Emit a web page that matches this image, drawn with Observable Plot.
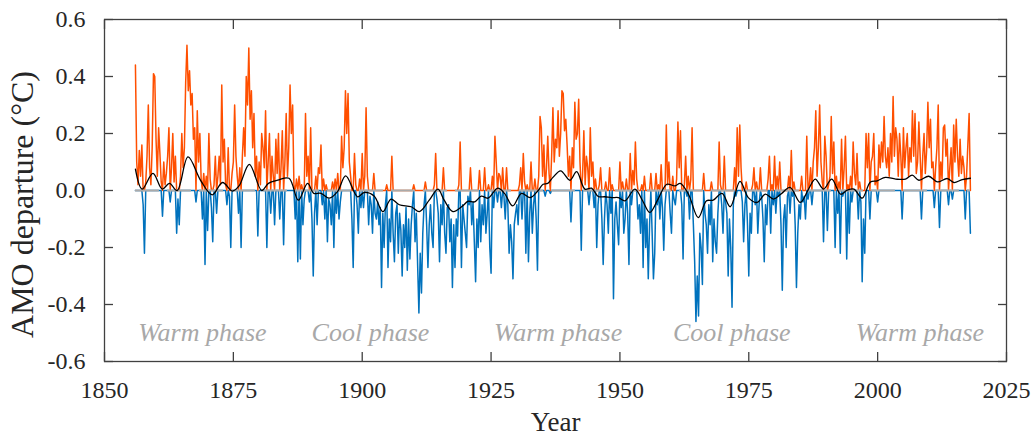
<!DOCTYPE html>
<html>
<head>
<meta charset="utf-8">
<script src="https://cdn.jsdelivr.net/npm/d3@7"></script>
<script src="https://cdn.jsdelivr.net/npm/@observablehq/plot@0.6"></script>
<style>
  html, body { margin: 0; padding: 0; background: #ffffff; }
  svg { display: block; }
  svg text { font-family: "Liberation Serif", "DejaVu Serif", serif !important; }
</style>
</head>
<body>
<div id="chart"></div>
<script>
// ---- data ----
const startYear = 1856;          // first sample
const samplesPerYear = 4;
// AMO departure (°C), four samples per year from 1856 to 2018
const amoValues = [
  0.44, 0.10, 0.02, 0.14,    // 1856
  0.05, 0.16, -0.05, -0.22,  // 1857
  0.03, 0.12, 0.30, 0.08,    // 1858
  0.02, 0.15, 0.41, 0.40,    // 1859
  0.18, 0.05, 0.22, 0.13,    // 1860
  0.03, -0.09, 0.10, 0.02,   // 1861
  0.06, 0.12, 0.22, -0.04,   // 1862
  0.08, 0.20, 0.03, 0.12,    // 1863
  -0.15, -0.03, -0.12, 0.05, // 1864
  0.20, 0.08, 0.15, 0.38,    // 1865
  0.51, 0.35, 0.42, 0.30,    // 1866
  0.34, 0.18, 0.22, -0.04,   // 1867
  0.28, 0.10, 0.20, 0.04,    // 1868
  -0.10, 0.06, -0.26, 0.05,  // 1869
  -0.14, 0.20, 0.04, -0.06,  // 1870
  -0.18, 0.02, 0.12, -0.08,  // 1871
  0.05, 0.12, 0.02, 0.37,    // 1872
  0.10, 0.18, 0.02, -0.05,   // 1873
  0.15, -0.02, -0.20, 0.06,  // 1874
  0.10, 0.30, 0.12, 0.05,    // 1875
  -0.08, 0.08, -0.20, 0.12,  // 1876
  0.22, 0.12, 0.40, 0.30,    // 1877
  0.50, 0.25, 0.35, 0.15,    // 1878
  0.27, 0.05, 0.12, -0.16,   // 1879
  0.10, 0.02, 0.20, 0.15,    // 1880
  0.08, 0.28, -0.20, 0.10,   // 1881
  0.20, -0.08, 0.12, 0.05,   // 1882
  -0.12, 0.18, 0.06, 0.20,   // 1883
  -0.10, 0.08, 0.21, -0.19,  // 1884
  0.10, 0.27, 0.05, 0.15,    // 1885
  0.37, 0.20, 0.30, 0.02,    // 1886
  -0.10, 0.04, -0.25, 0.05,  // 1887
  -0.24, 0.02, -0.12, -0.03, // 1888
  0.27, 0.05, 0.12, -0.04,   // 1889
  0.22, -0.10, -0.30, -0.08, // 1890
  0.05, -0.12, 0.08, 0.06,   // 1891
  0.16, -0.05, 0.04, -0.10,  // 1892
  0.02, -0.18, -0.03, -0.05, // 1893
  -0.12, 0.03, -0.20, 0.04,  // 1894
  -0.08, 0.06, -0.10, -0.04, // 1895
  0.19, 0.08, 0.15, 0.35,    // 1896
  0.20, 0.34, 0.10, 0.05,    // 1897
  -0.10, -0.27, 0.13, 0.02,  // 1898
  -0.05, -0.15, 0.04, -0.06, // 1899
  0.13, -0.06, 0.05, 0.29,   // 1900
  0.05, -0.12, -0.02, -0.05, // 1901
  -0.15, 0.06, -0.08, -0.10, // 1902
  -0.04, -0.12, -0.06, -0.34,// 1903
  -0.08, -0.20, -0.05, 0.02, // 1904
  -0.27, -0.10, -0.18, 0.12, // 1905
  -0.15, -0.25, -0.08, -0.05,// 1906
  -0.22, -0.08, -0.14, -0.30,// 1907
  -0.12, -0.20, -0.06, -0.28,// 1908
  -0.10, -0.24, -0.12, -0.05,// 1909
  0.02, -0.18, -0.08, -0.26, // 1910
  -0.43, -0.22, -0.36, -0.15,// 1911
  -0.05, 0.03, -0.12, -0.27, // 1912
  -0.12, -0.05, -0.15, -0.20,// 1913
  0.02, 0.13, -0.03, -0.08,  // 1914
  -0.25, -0.05, -0.12, 0.08, // 1915
  -0.15, -0.22, -0.06, -0.05,// 1916
  -0.18, -0.10, -0.34, -0.12,// 1917
  -0.27, -0.10, -0.16, 0.02, // 1918
  0.17, -0.27, -0.05, -0.10, // 1919
  -0.15, -0.20, -0.02, -0.05,// 1920
  0.08, -0.12, -0.04, -0.18, // 1921
  -0.32, -0.10, -0.20, 0.07, // 1922
  -0.18, -0.05, -0.12, 0.08, // 1923
  -0.15, -0.08, 0.02, -0.20, // 1924
  -0.29, 0.05, -0.06, 0.19,  // 1925
  0.10, -0.04, 0.06, 0.05,   // 1926
  -0.06, 0.08, -0.02, -0.10, // 1927
  0.08, -0.05, -0.22, -0.12, // 1928
  -0.18, -0.31, -0.12, -0.08,// 1929
  -0.05, -0.12, 0.02, 0.08,  // 1930
  -0.10, 0.13, 0.03, -0.22,  // 1931
  0.02, -0.25, -0.08, 0.10,  // 1932
  -0.15, -0.05, 0.04, -0.10, // 1933
  -0.28, 0.05, 0.26, 0.22,   // 1934
  0.05, 0.16, -0.02, 0.08,   // 1935
  0.19, 0.06, -0.01, 0.12,   // 1936
  0.29, 0.10, 0.18, 0.15,    // 1937
  0.28, 0.12, 0.20, 0.35,    // 1938
  0.34, 0.21, 0.25, 0.16,    // 1939
  0.05, 0.12, -0.11, 0.15,   // 1940
  0.08, 0.31, 0.18, 0.20,    // 1941
  0.32, 0.10, -0.21, 0.05,   // 1942
  0.21, 0.02, 0.12, 0.08,    // 1943
  -0.05, 0.22, 0.05, 0.10,   // 1944
  -0.06, 0.04, -0.20, -0.05, // 1945
  0.02, 0.08, -0.10, -0.26,  // 1946
  -0.10, 0.03, -0.05, -0.15, // 1947
  0.08, -0.08, 0.02, -0.38,  // 1948
  -0.10, -0.04, -0.12, -0.19,// 1949
  0.10, -0.06, 0.03, -0.15,  // 1950
  -0.10, 0.04, -0.08, -0.26, // 1951
  0.13, -0.05, 0.07, 0.02,   // 1952
  0.17, 0.04, -0.10, -0.05,  // 1953
  -0.15, 0.02, -0.27, 0.05,  // 1954
  -0.20, -0.10, -0.31, -0.12,// 1955
  0.06, -0.15, -0.31, -0.22, // 1956
  0.06, -0.05, 0.02, -0.10,  // 1957
  0.09, -0.06, -0.21, -0.05, // 1958
  0.23, 0.02, 0.10, -0.08,   // 1959
  -0.15, 0.05, -0.03, -0.05, // 1960
  0.04, 0.24, 0.08, 0.21,    // 1961
  -0.05, -0.24, 0.02, 0.12,  // 1962
  -0.02, 0.05, -0.10, 0.04,  // 1963
  0.22, -0.12, -0.25, -0.46, // 1964
  -0.30, -0.44, -0.15, -0.20,// 1965
  -0.33, 0.06, -0.08, -0.12, // 1966
  -0.22, -0.05, -0.12, 0.03, // 1967
  -0.25, -0.10, -0.18, -0.22,// 1968
  -0.08, 0.17, 0.02, -0.05,  // 1969
  -0.15, 0.12, -0.04, -0.08, // 1970
  -0.30, -0.10, -0.20, -0.41,// 1971
  -0.05, 0.08, -0.02, 0.22,  // 1972
  0.05, 0.23, 0.08, -0.04,   // 1973
  -0.18, -0.05, 0.03, -0.12, // 1974
  -0.30, -0.08, -0.15, 0.02, // 1975
  0.08, -0.05, 0.03, -0.15,  // 1976
  -0.05, 0.08, -0.02, -0.10, // 1977
  -0.25, -0.05, -0.12, 0.04, // 1978
  0.12, -0.15, 0.02, -0.05,  // 1979
  0.12, -0.08, 0.05, -0.02,  // 1980
  0.10, -0.12, -0.35, -0.10, // 1981
  -0.05, -0.20, -0.02, 0.05, // 1982
  -0.08, 0.14, -0.02, 0.03,  // 1983
  -0.12, -0.34, -0.15, -0.05,// 1984
  -0.10, 0.05, -0.04, -0.02, // 1985
  -0.10, 0.19, -0.03, 0.02,  // 1986
  0.08, -0.05, 0.10, 0.15,   // 1987
  0.28, 0.05, 0.15, 0.30,    // 1988
  0.10, 0.03, -0.18, 0.19,   // 1989
  0.12, -0.14, 0.02, 0.05,   // 1990
  0.26, 0.06, 0.17, -0.20,   // 1991
  0.05, -0.08, 0.03, -0.22,  // 1992
  0.18, -0.02, 0.08, 0.19,   // 1993
  -0.24, 0.02, -0.15, 0.05,  // 1994
  -0.04, 0.17, 0.06, 0.02,   // 1995
  0.13, -0.10, 0.03, -0.04,  // 1996
  -0.32, -0.10, -0.22, 0.20, // 1997
  0.08, 0.20, -0.10, 0.10,   // 1998
  0.12, 0.20, 0.02, 0.05,    // 1999
  -0.04, 0.16, 0.08, 0.17,   // 2000
  0.10, 0.26, 0.12, 0.08,    // 2001
  0.15, 0.05, 0.20, 0.10,    // 2002
  0.33, 0.12, 0.22, 0.18,    // 2003
  0.05, 0.20, 0.12, -0.10,   // 2004
  0.22, 0.08, 0.15, 0.20,    // 2005
  0.05, 0.15, 0.10, 0.28,    // 2006
  0.12, 0.27, 0.06, 0.10,    // 2007
  0.24, 0.12, -0.10, 0.12,   // 2008
  0.20, 0.06, 0.14, 0.31,    // 2009
  0.15, 0.25, 0.08, 0.10,    // 2010
  -0.06, 0.08, 0.15, 0.30,   // 2011
  -0.13, 0.10, 0.04, 0.22,   // 2012
  0.23, 0.12, 0.18, -0.05,   // 2013
  0.08, 0.15, -0.03, 0.23,   // 2014
  0.10, 0.25, 0.12, 0.05,    // 2015
  0.18, 0.06, 0.12, 0.08,    // 2016
  -0.10, 0.05, 0.16, 0.27,   // 2017
  -0.15                      // 2018
];

// low-pass filtered AMO (black curve)
const smoothYears = [1856.0,1857.3,1859.4,1861.2,1862.6,1864.1,1866.2,1868.7,1870.9,1872.9,1874.8,1876.1,1878.1,1880.5,1881.8,1883.6,1885.8,1887.6,1889.4,1890.6,1892.0,1893.6,1895.2,1896.8,1899.1,1900.4,1902.3,1904.0,1905.6,1907.2,1909.5,1911.1,1913.0,1914.7,1915.9,1917.6,1919.5,1920.5,1921.8,1923.1,1924.4,1926.3,1927.6,1929.2,1930.9,1932.6,1934.1,1935.1,1936.0,1937.0,1938.5,1940.3,1941.6,1943.2,1944.5,1945.8,1947.1,1948.4,1949.7,1951.0,1952.9,1954.4,1955.8,1957.4,1959.1,1960.7,1961.7,1963.3,1965.2,1966.8,1968.1,1969.8,1971.4,1973.3,1974.9,1976.6,1978.2,1979.8,1981.4,1983.0,1985.0,1986.6,1987.9,1989.5,1991.1,1992.8,1994.1,1995.4,1997.0,1998.6,1999.9,2001.5,2003.5,2005.4,2006.7,2008.0,2009.9,2011.6,2013.5,2014.8,2016.4,2018.0];
const smoothValues = [0.075,0.005,0.060,0.005,0.025,0.000,0.118,0.034,-0.015,0.028,-0.002,0.016,0.092,0.000,0.025,0.036,0.043,-0.034,0.025,-0.010,-0.010,-0.027,-0.004,0.051,-0.022,-0.007,-0.019,-0.074,-0.030,-0.050,-0.057,-0.074,-0.034,0.005,-0.034,-0.074,-0.054,-0.038,-0.040,-0.020,-0.027,0.008,-0.010,-0.054,-0.010,-0.025,-0.001,0.022,0.025,0.046,0.069,0.036,0.066,0.005,0.008,-0.021,-0.022,-0.025,-0.025,-0.036,0.005,-0.036,-0.077,-0.030,0.022,0.016,0.025,-0.013,-0.095,-0.036,-0.034,-0.010,-0.057,0.032,-0.025,-0.042,-0.013,-0.030,-0.010,0.011,-0.042,0.005,0.040,0.005,0.040,-0.013,0.001,0.005,-0.027,0.030,0.034,0.046,0.040,0.040,0.054,0.036,0.050,0.030,0.042,0.028,0.038,0.043];

const xTicks = [1850, 1875, 1900, 1925, 1950, 1975, 2000, 2025];
const yTicks = [-0.6, -0.4, -0.2, 0, 0.2, 0.4, 0.6];
const phaseLabels = ["Warm phase", "Cool phase", "Warm phase", "Cool phase", "Warm phase"];
const phaseYears = [1869, 1901.6, 1938, 1971.7, 2008.2];
const phaseLevel = -0.5;
const xTitle = "Year";
const yTitle = "AMO departure (°C)";

// ---- tables built from the arrays ----
const amo = amoValues.map((v, i) => ({year: startYear + i / samplesPerYear, v}));
const smooth = smoothYears.map((year, i) => ({year, v: smoothValues[i]}));
const phases = phaseLabels.map((label, i) => ({label, year: phaseYears[i], y: phaseLevel}));

const ORANGE = "#ff4f00";
const BLUE = "#0072bd";
const AXIS = "#404040";
const TEXT = "#262626";
const FONT = "Liberation Serif, DejaVu Serif, serif";

const chart = Plot.plot({
  width: 1033,
  height: 437,
  marginLeft: 104,
  marginRight: 27,
  marginTop: 19,
  marginBottom: 76,
  x: {domain: [1850, 2025], label: null},
  y: {domain: [-0.6, 0.6], label: null},
  style: {fontFamily: FONT, background: "#ffffff", color: TEXT, overflow: "visible"},
  marks: [
    Plot.line(amo, {x: "year", y: d => Math.min(d.v, 0), stroke: BLUE, strokeWidth: 1.5}),
    Plot.line(amo, {x: "year", y: d => Math.max(d.v, 0), stroke: ORANGE, strokeWidth: 1.5}),
    Plot.ruleY([0], {x1: smoothYears[0], x2: smoothYears[smoothYears.length - 1], stroke: "#aaaaaa", strokeWidth: 2, strokeDasharray: "24,8"}),
    Plot.line(smooth, {x: "year", y: "v", curve: "catmull-rom", stroke: "#000000", strokeWidth: 1.3}),
    Plot.text(phases, {x: "year", y: "y", text: "label", fill: "#a8a8a8", fontSize: 26, fontStyle: "italic", fontFamily: FONT, textAnchor: "middle", lineAnchor: "middle"}),
    Plot.frame({stroke: AXIS, strokeWidth: 1.3}),
    // tick labels
    Plot.axisX({ticks: xTicks, anchor: "bottom", tickSize: 0, tickPadding: 19, fontSize: 24, fontFamily: FONT, tickFormat: d => String(d), label: null, fill: TEXT}),
    Plot.axisY({ticks: yTicks, anchor: "left", tickSize: 0, tickPadding: 19, fontSize: 24, fontFamily: FONT, tickFormat: d => d.toFixed(1), label: null, fill: TEXT}),
    // inward ticks on all four sides
    Plot.axisX({ticks: xTicks, anchor: "bottom", tickSize: -9, tickFormat: () => "", label: null, stroke: AXIS, strokeWidth: 1.3}),
    Plot.axisX({ticks: xTicks, anchor: "top", tickSize: -9, tickFormat: () => "", label: null, stroke: AXIS, strokeWidth: 1.3}),
    Plot.axisY({ticks: yTicks, anchor: "left", tickSize: -9, tickFormat: () => "", label: null, stroke: AXIS, strokeWidth: 1.3}),
    Plot.axisY({ticks: yTicks, anchor: "right", tickSize: -9, tickFormat: () => "", label: null, stroke: AXIS, strokeWidth: 1.3}),
    // axis titles
    Plot.text([xTitle], {frameAnchor: "bottom", text: d => d, dy: 61, fontSize: 27, fontFamily: FONT, textAnchor: "middle", lineAnchor: "middle", fill: TEXT}),
    Plot.text([yTitle], {frameAnchor: "left", text: d => d, rotate: -90, dx: -82, dy: 14, fontSize: 32, fontFamily: FONT, textAnchor: "middle", lineAnchor: "middle", fill: TEXT})
  ]
});
document.getElementById("chart").appendChild(chart);
</script>
</body>
</html>
